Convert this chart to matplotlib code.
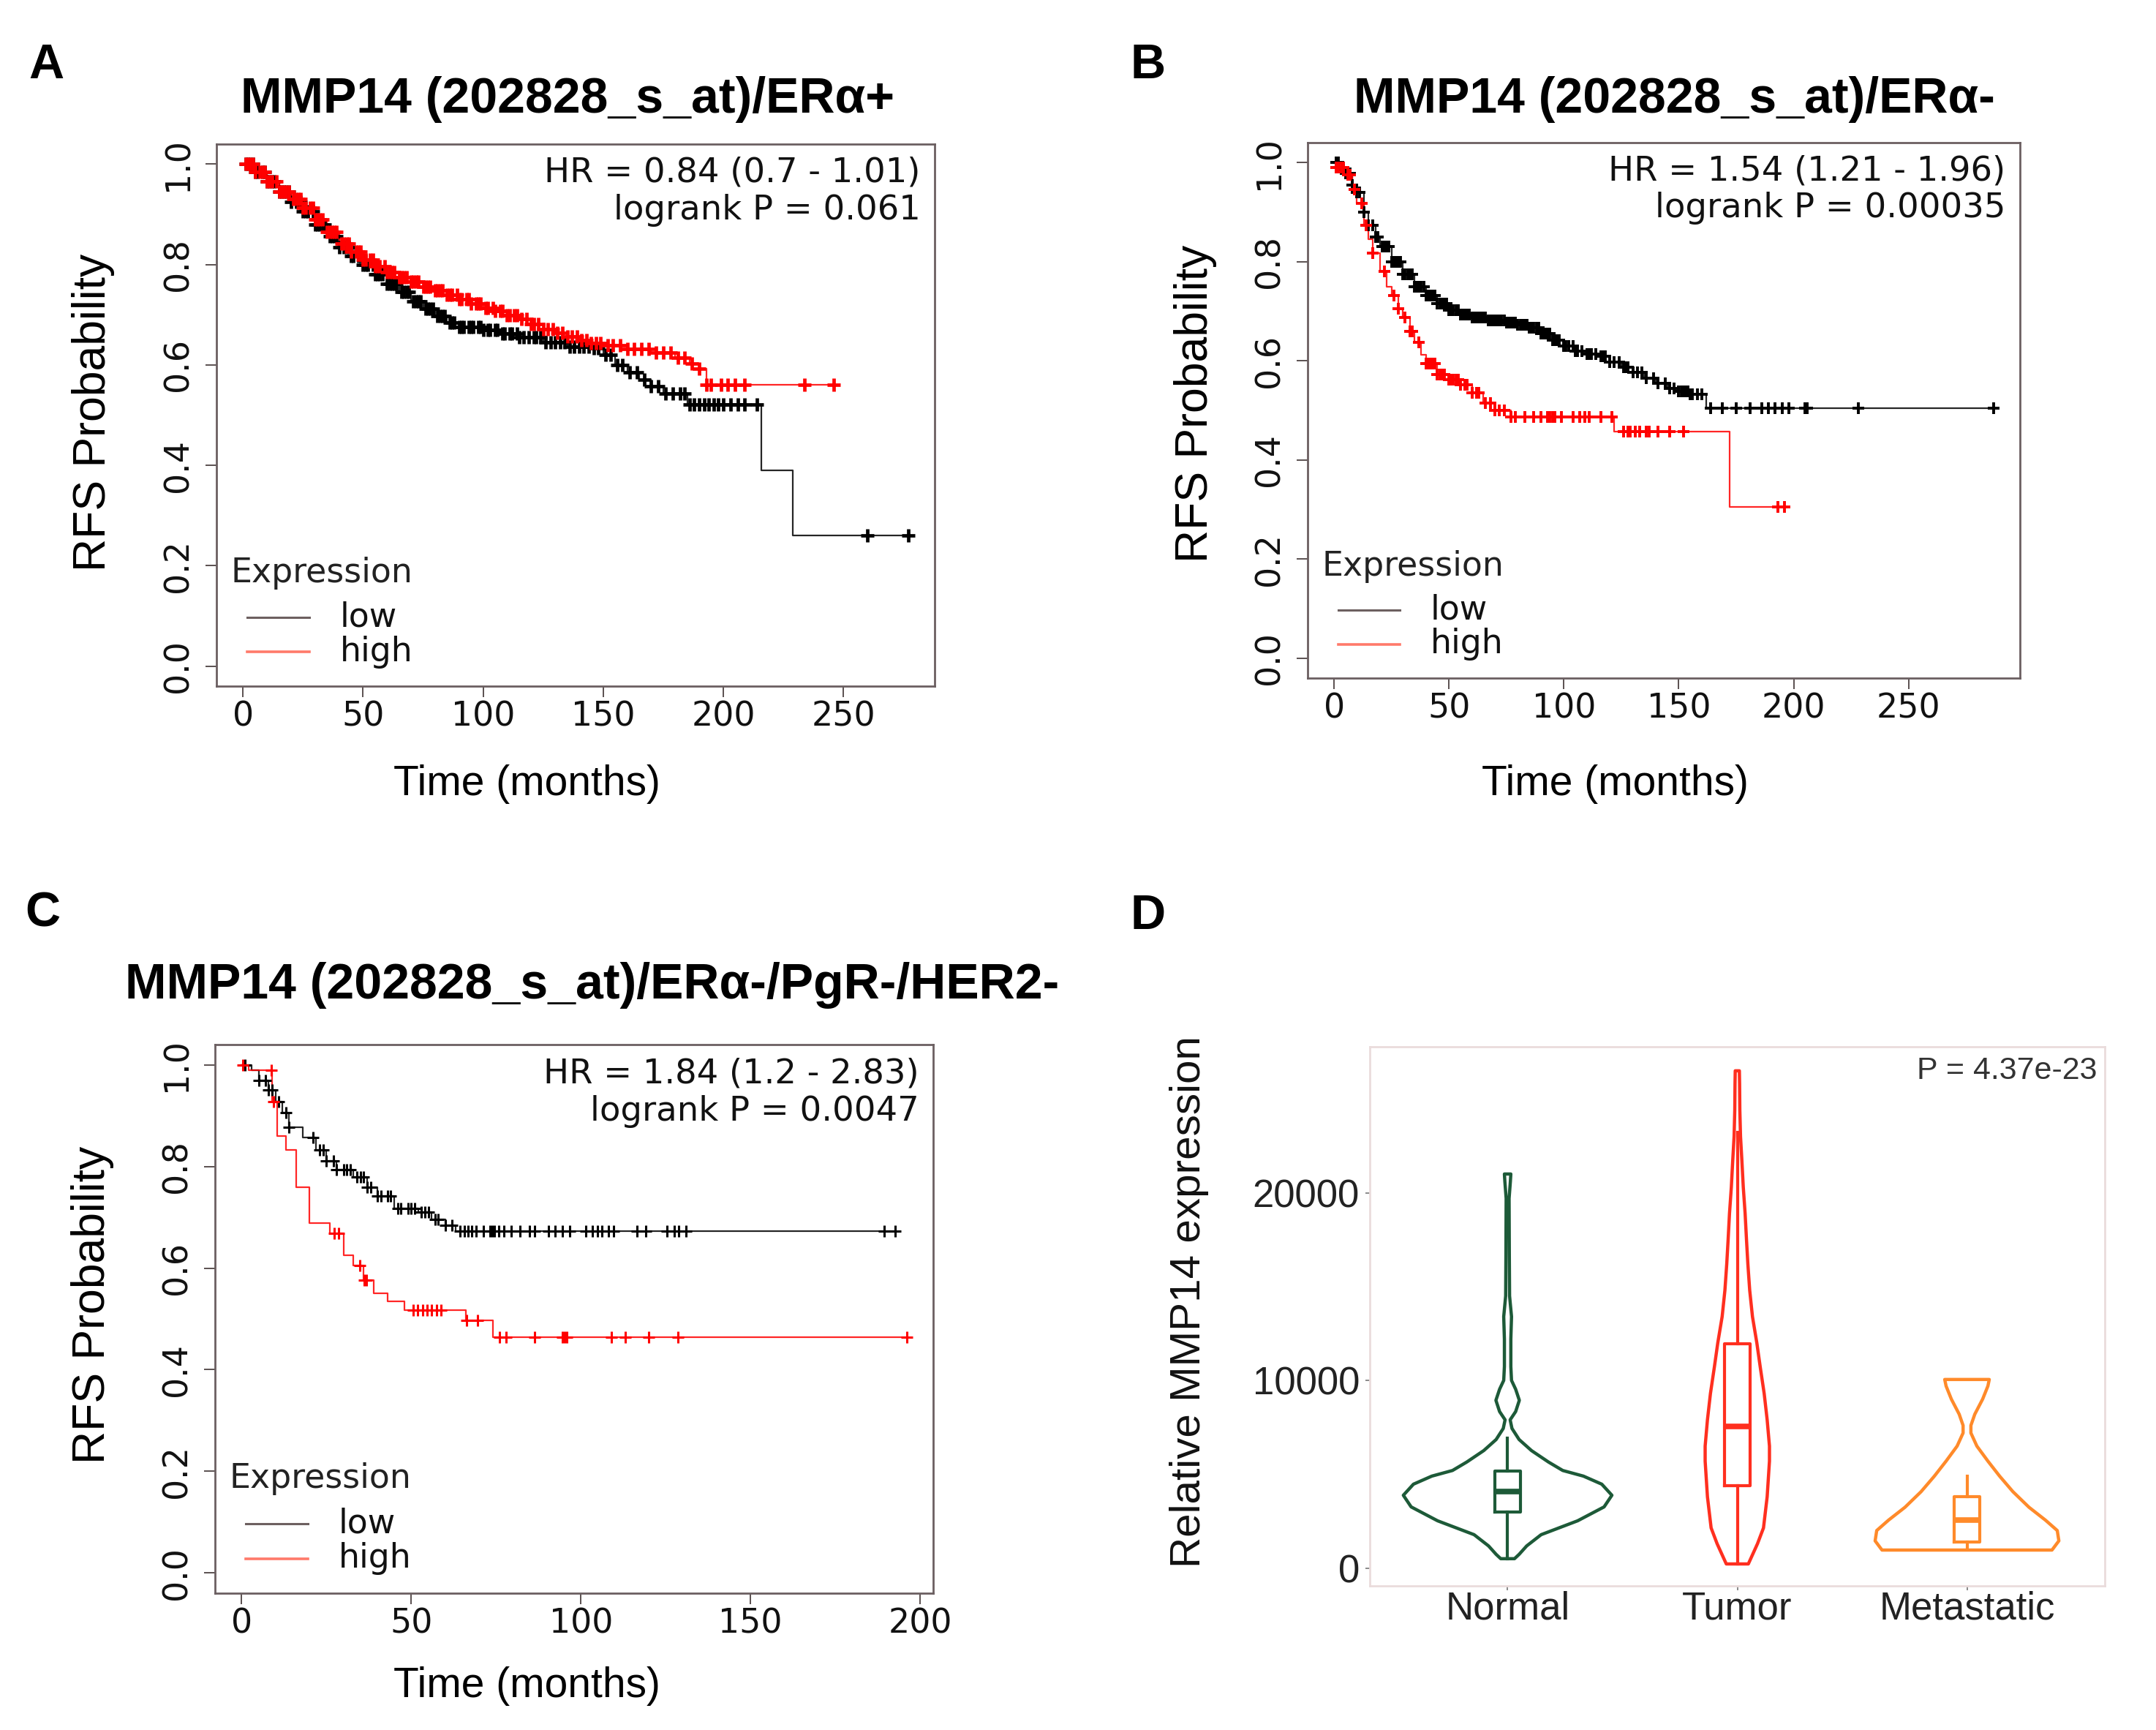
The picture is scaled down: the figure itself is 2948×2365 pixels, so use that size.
import numpy as np
import matplotlib
matplotlib.use('Agg')
import matplotlib.pyplot as plt

W, H = 2948, 2365
DPI = 100

# ---------------- panel A : ERa+ ----------------
a_low_t = [0, 5, 10, 15, 20, 25, 30, 35, 40, 45, 50, 55, 60, 65, 70, 75, 80, 85, 90, 100,
           107, 115, 125, 135, 145, 150, 155, 160, 165, 170, 175, 185, 216, 229]
a_low_s = [1.0, 0.985, 0.965, 0.945, 0.925, 0.906, 0.88, 0.857, 0.835, 0.817, 0.799, 0.78,
           0.762, 0.745, 0.727, 0.712, 0.697, 0.684, 0.675, 0.67, 0.662, 0.655, 0.645, 0.637,
           0.633, 0.62, 0.6, 0.585, 0.57, 0.557, 0.543, 0.521, 0.39, 0.26]
a_low_cens = [1, 2, 3, 4, 5, 6, 8, 9, 10, 11, 12, 13, 15, 16, 17, 18, 19, 20, 22, 23, 24, 25,
              26, 27, 29, 30, 31, 32, 33, 34, 36, 37, 38, 39, 40, 42, 43, 44, 45, 46, 48, 49,
              50, 51, 52, 54, 55, 56, 57, 58, 60, 61, 62, 63, 64, 66, 67, 68, 69, 71, 72, 73,
              74, 76, 77, 78, 79, 81, 82, 83, 84, 86, 87, 88, 90, 91, 92, 94, 95, 96, 98, 99,
              100, 102, 103, 105, 106, 108, 109, 111, 112, 114, 115, 117, 119, 121, 122, 124,
              126, 128, 130, 132, 134, 136, 138, 140, 142, 144, 146, 148, 151, 153, 156, 158,
              161, 164, 167, 170, 173, 176, 179, 182, 184, 186, 188, 190, 192, 194, 196, 198,
              200, 203, 206, 209, 214, 260, 277]
a_high_t = [0, 5, 10, 15, 20, 25, 30, 35, 40, 45, 50, 55, 60, 65, 70, 75, 80, 85, 90, 95, 100,
            105, 110, 115, 120, 125, 130, 135, 140, 145, 150, 160, 170, 180, 186, 190, 193]
a_high_s = [1.0, 0.985, 0.965, 0.945, 0.93, 0.913, 0.89, 0.865, 0.842, 0.826, 0.81, 0.797,
            0.785, 0.775, 0.766, 0.756, 0.748, 0.74, 0.731, 0.722, 0.714, 0.707, 0.699, 0.692,
            0.682, 0.671, 0.664, 0.657, 0.65, 0.644, 0.639, 0.632, 0.625, 0.614, 0.603, 0.593,
            0.56]
a_high_cens = [1, 2, 3, 4, 5, 7, 8, 9, 10, 11, 12, 14, 15, 16, 17, 18, 19, 21, 22, 23, 24, 25,
               26, 28, 29, 30, 31, 32, 33, 35, 36, 37, 38, 39, 41, 42, 43, 44, 45, 47, 48, 49,
               50, 51, 53, 54, 55, 56, 57, 59, 60, 61, 62, 63, 65, 66, 67, 68, 70, 71, 72, 73,
               75, 76, 77, 78, 80, 81, 82, 83, 85, 86, 87, 89, 90, 91, 93, 94, 95, 97, 98, 99,
               101, 102, 104, 105, 107, 108, 110, 111, 113, 114, 116, 118, 120, 121, 123, 125,
               127, 129, 131, 133, 135, 137, 139, 141, 143, 145, 147, 149, 152, 154, 157, 160,
               163, 166, 169, 172, 175, 178, 181, 184, 187, 190, 193, 195, 199, 202, 205, 209,
               234, 246]

# ---------------- panel B : ERa- ----------------
b_low_t = [0, 3, 5, 8, 10, 13, 15, 18, 20, 25, 30, 35, 40, 45, 50, 55, 60, 67, 75, 80, 85, 90,
           95, 100, 105, 110, 115, 120, 125, 130, 135, 140, 145, 150, 155, 162]
b_low_s = [1.0, 0.985, 0.978, 0.955, 0.939, 0.9, 0.874, 0.85, 0.831, 0.799, 0.774, 0.75, 0.731,
           0.715, 0.702, 0.694, 0.688, 0.682, 0.677, 0.673, 0.666, 0.655, 0.641, 0.63, 0.619,
           0.614, 0.609, 0.598, 0.587, 0.576, 0.565, 0.555, 0.544, 0.538, 0.533, 0.504]
b_low_cens = [1, 2, 4, 5, 7, 8, 10, 11, 13, 15, 17, 18, 19, 21, 22, 23, 24, 25, 26, 27, 28, 29,
              30, 31, 32, 33, 34, 35, 36, 37, 38, 39, 40, 41, 42, 43, 44, 45, 46, 47, 48, 49,
              50, 51, 52, 53, 54, 55, 56, 57, 58, 59, 60, 61, 62, 63, 64, 65, 66, 67, 68, 69,
              70, 71, 72, 73, 74, 75, 76, 77, 78, 79, 80, 81, 82, 83, 84, 85, 86, 87, 88, 89,
              90, 91, 92, 93, 94, 95, 96, 97, 98, 100, 101, 102, 104, 105, 106, 108, 110, 111,
              112, 114, 116, 117, 118, 120, 122, 124, 126, 127, 128, 130, 132, 134, 136, 139,
              141, 144, 146, 148, 150, 151, 152, 153, 154, 155, 156, 158, 160, 164, 169, 175,
              181, 186, 189, 192, 195, 198, 205, 206, 228, 287]
b_high_t = [0, 1, 5, 8, 10, 13, 15, 17, 20, 23, 25, 28, 30, 33, 35, 38, 40, 45, 50, 55, 60, 65,
            70, 77, 122, 172]
b_high_s = [1.0, 0.99, 0.975, 0.945, 0.918, 0.874, 0.845, 0.817, 0.781, 0.75, 0.731, 0.705,
            0.688, 0.66, 0.637, 0.612, 0.594, 0.573, 0.562, 0.551, 0.535, 0.515, 0.5, 0.486,
            0.457, 0.305]
b_high_cens = [1, 2, 3, 4, 6, 7, 9, 12, 14, 17, 22, 26, 28, 31, 33, 34, 37, 40, 41, 42, 43, 44,
               45, 46, 47, 48, 50, 51, 52, 53, 54, 55, 57, 58, 60, 62, 63, 66, 68, 70, 72, 74,
               77, 79, 83, 87, 90, 93, 94, 95, 96, 99, 104, 107, 109, 111, 116, 121, 126, 128,
               129, 131, 133, 136, 137, 141, 146, 152, 193, 196]

# ---------------- panel C : triple negative ----------------
c_low_t = [0, 3, 5, 8, 10, 12, 14, 18, 22, 25, 28, 33, 37, 40, 45, 52, 56, 60, 63]
c_low_s = [1.0, 0.99, 0.969, 0.951, 0.927, 0.906, 0.878, 0.857, 0.832, 0.811, 0.794, 0.78,
           0.759, 0.742, 0.717, 0.71, 0.696, 0.685, 0.673]
c_low_cens = [1, 5, 7, 8, 9, 11, 13, 14, 21, 23, 24, 25, 27, 28, 30, 31, 32, 34, 35, 36, 37, 38,
              40, 41, 43, 44, 46, 47, 49, 50, 51, 53, 54, 55, 57, 58, 60, 62, 64.3, 65.7, 66.8,
              67.9, 69.1, 71.2, 73.2, 73.9, 74.6, 75.9, 77.3, 79.4, 82.1, 84.9, 86.3, 90.4,
              92.4, 94.5, 96.6, 101.4, 103.4, 104.8, 106.2, 108.2, 109.6, 116.5, 119.2, 125.4,
              127.5, 128.8, 130.9, 189.3, 192.7]
c_high_t = [0, 2, 9, 10.5, 13, 16, 20, 26, 30, 33, 36, 39, 43, 48, 66, 74]
c_high_s = [1.0, 0.99, 0.927, 0.86, 0.832, 0.759, 0.689, 0.668, 0.626, 0.605, 0.577, 0.55,
            0.535, 0.518, 0.497, 0.4635]
c_high_cens = [0.4, 8.7, 9.3, 27.2, 28.6, 34.8, 36.1, 36.8, 50.5, 51.9, 53.3, 54.7, 56, 57.4,
               58.8, 66.3, 69.6, 76, 78, 86.3, 94.5, 95.2, 95.9, 109, 113, 119.9, 128.6, 196]

# ---------------- panel D : violins (value in thousands, half width in category units) -----
groups = ['Normal', 'Tumor', 'Metastatic']
normal_y = [0.5, 0.73, 1.18, 1.78, 2.52, 3.26, 3.88, 4.47, 4.9, 5.2, 5.65, 6.26, 6.85, 7.44,
            7.9, 8.34, 8.94, 9.53, 10.0, 10.74, 12.2, 13.4, 14.5, 16.7, 19.7, 20.6, 21.0]
normal_w = [0.03, 0.05, 0.083, 0.146, 0.305, 0.42, 0.454, 0.41, 0.33, 0.24, 0.178, 0.104, 0.05,
            0.019, 0.011, 0.035, 0.051, 0.035, 0.017, 0.014, 0.014, 0.017, 0.0085, 0.0074,
            0.0064, 0.012, 0.014]
tumor_y = [0.22, 1.3, 2.14, 3.8, 5.7, 6.5, 7.9, 9.3, 10.7, 12.0, 13.4, 14.8, 16.2, 17.5, 18.9,
           20.3, 21.7, 23.0, 24.4, 25.8, 26.5]
tumor_w = [0.048, 0.088, 0.114, 0.13, 0.14, 0.14, 0.13, 0.117, 0.1, 0.085, 0.066, 0.054, 0.046,
           0.04, 0.034, 0.026, 0.02, 0.014, 0.011, 0.01, 0.009]
meta_y = [0.96, 1.45, 2.0, 2.55, 3.24, 4.07, 4.9, 5.7, 6.5, 7.2, 7.6, 8.2, 9.0, 9.7, 10.05]
meta_w = [0.37, 0.40, 0.393, 0.342, 0.27, 0.2, 0.142, 0.091, 0.043, 0.017, 0.017, 0.034, 0.068,
          0.091, 0.097]
# box stats: whislo, q1, median, q3, whishi (thousands)
box_normal = [0.5, 3.0, 4.06, 5.18, 6.92]
box_tumor = [0.22, 4.4, 7.55, 11.95, 23.2]
box_meta = [1.0, 1.4, 2.55, 3.8, 4.9]
colors_d = ['#1d5a38', '#ff2f1f', '#ff8a2a']

fig = plt.figure(figsize=(W / DPI, H / DPI), dpi=DPI)
fig.patch.set_facecolor('white')


def px_axes(l, t, r, b):
    return fig.add_axes([l / W, 1 - b / H, (r - l) / W, (b - t) / H])


def px_text(x, y, s, **kw):
    return fig.text(x / W, 1 - y / H, s, **kw)


def km_panel(ax, curves, xticks, hr, p, ms=11, mew=2.0):
    tmax = max(max(c[2]) for c in curves)
    for t, s, cens, col in curves:
        t = np.array(t, float)
        s = np.array(s, float)
        cens = np.array(cens, float)
        end = max(cens.max(), t.max())
        ax.step(np.append(t, end), np.append(s, s[-1]), where='post', color=col, lw=1.6,
                alpha=0.85, zorder=3)
        cy = s[np.searchsorted(t, cens, side='right') - 1]
        ax.plot(cens, cy, '+', color=col, ms=ms, mew=mew, zorder=4)
    ax.set_xlim(-0.04 * tmax, 1.04 * tmax)
    ax.set_ylim(-0.04, 1.04)
    ax.set_xticks(xticks)
    ax.set_yticks([0, 0.2, 0.4, 0.6, 0.8, 1.0])
    ax.set_yticklabels(['0.0', '0.2', '0.4', '0.6', '0.8', '1.0'])
    ax.tick_params(axis='both', length=11, width=1.4, color='#5a5050', labelsize=33,
                   labelcolor='#111111')
    ax.tick_params(axis='x', pad=3)
    ax.tick_params(axis='y', pad=10)
    for lbl in ax.get_xticklabels() + ax.get_yticklabels():
        lbl.set_family('DejaVu Sans')
    for lbl in ax.get_yticklabels():
        lbl.set_rotation(90)
        lbl.set_va('center')
    for sp in ax.spines.values():
        sp.set_color('#6b5f61')
        sp.set_linewidth(2)
    ax.text(0.98, 0.947, hr, transform=ax.transAxes, ha='right', va='center', fontsize=33.5,
            family='DejaVu Sans', color='#111111')
    ax.text(0.98, 0.878, 'logrank P = ' + p, transform=ax.transAxes, ha='right', va='center',
            fontsize=33.5, family='DejaVu Sans', color='#111111')
    ax.text(0.02, 0.209, 'Expression', transform=ax.transAxes, ha='left', va='center',
            fontsize=33, family='DejaVu Sans', color='#222222')
    ax.plot([0.043, 0.129], [0.127, 0.127], transform=ax.transAxes, color='#6d6060', lw=2.2)
    ax.plot([0.043, 0.129], [0.063, 0.063], transform=ax.transAxes, color='#ff7a6a', lw=2.6)
    ax.text(0.172, 0.127, 'low', transform=ax.transAxes, ha='left', va='center', fontsize=33,
            family='DejaVu Sans', color='#111111')
    ax.text(0.172, 0.063, 'high', transform=ax.transAxes, ha='left', va='center', fontsize=33,
            family='DejaVu Sans', color='#111111')


# ---- A ----
axA = px_axes(296, 197, 1278, 938)
km_panel(axA, [(a_low_t, a_low_s, a_low_cens, 'black'), (a_high_t, a_high_s, a_high_cens, 'red')],
         [0, 50, 100, 150, 200, 250], 'HR = 0.84 (0.7 - 1.01)', '0.061', ms=13, mew=3.4)
px_text(776, 136, 'MMP14 (202828_s_at)/ERα+', ha='center', va='center', fontsize=49,
        fontweight='bold', family='Liberation Sans')
px_text(720, 1072, 'Time (months)', ha='center', va='center', fontsize=41, family='Liberation Sans')
px_text(128, 564, 'RFS Probability', ha='center', va='center', rotation=90, fontsize=45,
        family='Liberation Sans')
px_text(63, 90, 'A', ha='center', va='center', fontsize=48, fontweight='bold',
        family='Liberation Sans')

# ---- B ----
axB = px_axes(1788, 195, 2762, 927)
km_panel(axB, [(b_low_t, b_low_s, b_low_cens, 'black'), (b_high_t, b_high_s, b_high_cens, 'red')],
         [0, 50, 100, 150, 200, 250], 'HR = 1.54 (1.21 - 1.96)', '0.00035', ms=12, mew=2.8)
px_text(2289, 136, 'MMP14 (202828_s_at)/ERα-', ha='center', va='center', fontsize=49,
        fontweight='bold', family='Liberation Sans')
px_text(2208, 1072, 'Time (months)', ha='center', va='center', fontsize=41, family='Liberation Sans')
px_text(1635, 552, 'RFS Probability', ha='center', va='center', rotation=90, fontsize=45,
        family='Liberation Sans')
px_text(1570, 90, 'B', ha='center', va='center', fontsize=48, fontweight='bold',
        family='Liberation Sans')

# ---- C ----
axC = px_axes(294, 1428, 1276, 2178)
km_panel(axC, [(c_low_t, c_low_s, c_low_cens, 'black'), (c_high_t, c_high_s, c_high_cens, 'red')],
         [0, 50, 100, 150, 200], 'HR = 1.84 (1.2 - 2.83)', '0.0047', ms=12, mew=2.2)
px_text(171, 1347, 'MMP14 (202828_s_at)/ERα-/PgR-/HER2-', ha='left', va='center', fontsize=49,
        fontweight='bold', family='Liberation Sans')
px_text(720, 2305, 'Time (months)', ha='center', va='center', fontsize=41, family='Liberation Sans')
px_text(126, 1784, 'RFS Probability', ha='center', va='center', rotation=90, fontsize=45,
        family='Liberation Sans')
px_text(58, 1249, 'C', ha='center', va='center', fontsize=48, fontweight='bold',
        family='Liberation Sans')

# ---- D ----
axD = px_axes(1873, 1431, 2878, 2168)
profiles = [(normal_y, normal_w), (tumor_y, tumor_w), (meta_y, meta_w)]
boxes = [box_normal, box_tumor, box_meta]
vpstats = []
widths = []
for (yy, ww), bx in zip(profiles, boxes):
    yy = np.array(yy) * 1000
    ww = np.array(ww)
    vpstats.append(dict(coords=yy, vals=ww, mean=bx[2] * 1000, median=bx[2] * 1000,
                        min=yy.min(), max=yy.max()))
    widths.append(2 * ww.max())
parts = axD.violin(vpstats, positions=[1, 2, 3], widths=widths, showmeans=False,
                   showextrema=False, showmedians=False)
for body, col in zip(parts['bodies'], colors_d):
    body.set_facecolor('none')
    body.set_edgecolor(col)
    body.set_linewidth(3.2)
    body.set_joinstyle('round')
    body.set_alpha(1)
for i, (bx, col) in enumerate(zip(boxes, colors_d)):
    st = dict(whislo=bx[0] * 1000, q1=bx[1] * 1000, med=bx[2] * 1000, q3=bx[3] * 1000,
              whishi=bx[4] * 1000, fliers=[])
    axD.bxp([st], positions=[i + 1], widths=0.11, showfliers=False, showcaps=False,
            manage_ticks=False, patch_artist=False,
            boxprops=dict(color=col, lw=3.0), whiskerprops=dict(color=col, lw=3.0),
            medianprops=dict(color=col, lw=5.5, solid_capstyle='butt'))
axD.set_xlim(0.4, 3.6)
axD.set_ylim(-950, 27780)
axD.set_xticks([1, 2, 3])
axD.set_xticklabels(groups)
axD.set_yticks([0, 10000, 20000])
axD.set_yticklabels(['0', '10000', '20000'])
axD.tick_params(axis='both', length=4, width=1.2, color='#777777', labelsize=38,
                labelcolor='#222222')
axD.tick_params(axis='y', pad=6)
axD.tick_params(axis='x', pad=1)
for lbl in axD.get_xticklabels() + axD.get_yticklabels():
    lbl.set_family('Liberation Sans')
for sp in axD.spines.values():
    sp.set_color('#eadcdc')
    sp.set_linewidth(2)
axD.text(0.99, 0.955, 'P = 4.37e-23', transform=axD.transAxes, ha='right', va='center',
         fontsize=31, family='Liberation Sans', color='#333333')
px_text(1626, 1780, 'Relative MMP14 expression', ha='center', va='center', rotation=90,
        fontsize=42, family='Liberation Sans', color='#111111')
px_text(1570, 1253, 'D', ha='center', va='center', fontsize=48, fontweight='bold',
        family='Liberation Sans')

fig.savefig('out.png', dpi=DPI, facecolor='white')
